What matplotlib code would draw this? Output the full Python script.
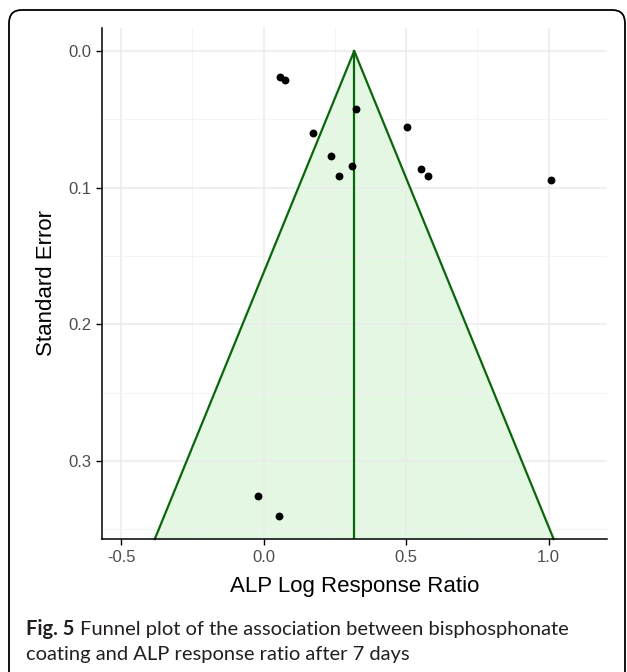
import numpy as np
import matplotlib
matplotlib.use('Agg')
import matplotlib.pyplot as plt
from matplotlib.patches import FancyBboxPatch
from matplotlib.ticker import MultipleLocator

# ── Data ──────────────────────────────────────────────────────────────────────
log_rr = [0.059, 0.074, 0.326, 0.504, 0.174, 0.235, 0.311, 0.266,
          0.553, 0.578, 1.008, -0.021, 0.053]
std_err = [0.0193, 0.0215, 0.0424, 0.0554, 0.0600, 0.0766, 0.0841, 0.0912,
           0.0863, 0.0912, 0.0946, 0.3253, 0.3400]
pooled = 0.318
x_ticks = [-0.5, 0.0, 0.5, 1.0]
y_ticks = [0.0, 0.1, 0.2, 0.3]

XLIM = (-0.567, 1.205)
YLIM = (0.357, -0.0168)

W, H = 627, 672
fig = plt.figure(figsize=(W / 100, H / 100), dpi=100)
ax = fig.add_axes([102 / W, 1 - 539 / H, (607 - 102) / W, (539 - 28) / H])

# ── Grid ──────────────────────────────────────────────────────────────────────
ax.xaxis.set_minor_locator(MultipleLocator(0.25))
ax.yaxis.set_minor_locator(MultipleLocator(0.05))
ax.grid(which='major', color='#EBEBEB', linewidth=1.1, zorder=0)
ax.grid(which='minor', color='#F2F2F2', linewidth=0.6, zorder=0)
ax.tick_params(which='minor', length=0)

# ── Funnel (pooled estimate +/- 1.96 SE) ──────────────────────────────────────
se_bot = YLIM[0]
fx = [pooled - 1.96 * se_bot, pooled, pooled + 1.96 * se_bot]
fy = [se_bot, 0.0, se_bot]
ax.fill(fx, fy, color='#E3F7E3', zorder=1, linewidth=0)
ax.plot(fx, fy, color='#0B660B', linewidth=1.6, zorder=2, clip_on=False)
ax.plot([pooled, pooled], [0.0, se_bot], color='#0B660B', linewidth=1.6, zorder=2)

ax.scatter(log_rr, std_err, s=32, color='black', zorder=3, linewidths=0)

# ── Axes styling ──────────────────────────────────────────────────────────────
ax.set_xlim(*XLIM)
ax.set_ylim(*YLIM)
ax.set_xticks(x_ticks)
ax.set_xticklabels([f'{v:.1f}' for v in x_ticks])
ax.set_yticks(y_ticks)
ax.set_yticklabels([f'{v:.1f}' for v in y_ticks])
for s in ['top', 'right']:
    ax.spines[s].set_visible(False)
for s in ['left', 'bottom']:
    ax.spines[s].set_linewidth(1.1)
ax.tick_params(which='major', length=4.2, width=1.0, color='black',
               labelsize=12, labelcolor='#4D4D4D', pad=3.5)
for lab in ax.get_xticklabels() + ax.get_yticklabels():
    lab.set_family('Liberation Sans')

ax.set_xlabel('ALP Log Response Ratio', fontsize=16, family='Liberation Sans',
              labelpad=8)
ax.set_ylabel('Standard Error', fontsize=16, family='Liberation Sans',
              labelpad=8)

# ── Caption and frame ─────────────────────────────────────────────────────────
cap_font = 'Lato'
cap_size = 14.5
bold = fig.text(26 / W, 1 - 635 / H, 'Fig. 5', fontsize=cap_size, va='baseline',
                ha='left', family=cap_font, fontweight='bold', color='#231F20')
fig.canvas.draw()
bb = bold.get_window_extent()
fig.text((bb.x1 + 6) / W, 1 - 635 / H,
         'Funnel plot of the association between bisphosphonate',
         fontsize=cap_size, va='baseline', ha='left', family=cap_font,
         color='#231F20')
fig.text(26 / W, 1 - 660 / H,
         'coating and ALP response ratio after 7 days',
         fontsize=cap_size, va='baseline', ha='left', family=cap_font,
         color='#231F20')

frame = FancyBboxPatch((9 / W, -0.03), (625 - 9) / W, (1 - 10 / H) + 0.03,
                       boxstyle='round,pad=0,rounding_size=0.02',
                       transform=fig.transFigure, fill=False,
                       edgecolor='black', linewidth=1.3)
fig.add_artist(frame)

fig.savefig('out.png', dpi=100)
plt.close(fig)
